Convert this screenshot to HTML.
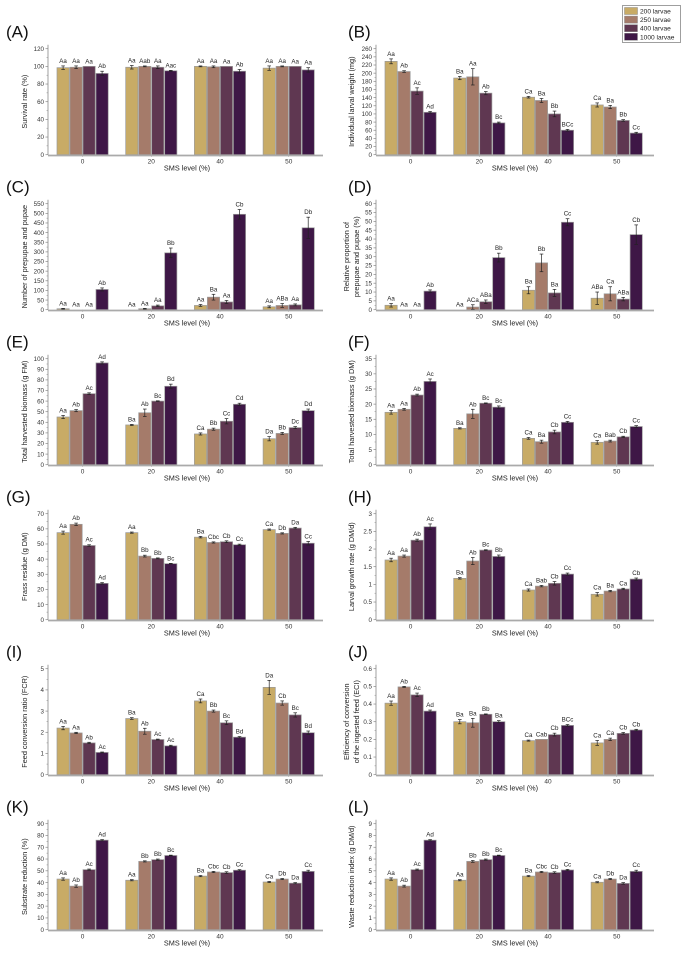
<!DOCTYPE html>
<html><head><meta charset="utf-8">
<style>
html,body{margin:0;padding:0;background:#fff;}
svg{display:block;font-family:"Liberation Sans",Arial,sans-serif;}
</style></head>
<body>
<svg id="fig" width="685" height="979" viewBox="0 0 685 979" xmlns="http://www.w3.org/2000/svg"></svg>
<script>
const groups = ["0","20","40","50"];
const seriesNames = ["200 larvae","250 larvae","400 larvae","1000 larvae"];
const colors = ["#c8ab66","#a57b6a","#5f3751","#3e1746"];

const valsA = [[98.5,99,100,92],[99,100,99,95],[100,99.5,100,94.5],[98,100,100,96]];
const errA = [[2,1.5,0,2.5],[2,0.5,1.5,0.5],[0.5,1,0,2],[2.5,0.5,0,2.5]];
const lettA = [["Aa","Aa","Aa","Ab"],["Aa","Aab","Aa","Aac"],["Aa","Aa","Aa","Ab"],["Aa","Aa","Aa","Aa"]];

const valsB = [[229,204,156,104],[188,191,151,78],[141,133,100,60],[122,117,84,53]];
const errB = [[6,2,8,2],[4,20,4,2],[2,5,7,2],[5,4,2,2]];
const lettB = [["Aa","Ab","Ac","Ad"],["Ba","Aa","Ab","Bc"],["Ca","Ba","Bb","BCc"],["Ca","Ba","Bb","Cc"]];

const valsC = [[5,0,0,105],[0,5,20,295],[22,65,40,495],[15,22,25,425]];
const errC = [[2,0,0,8],[0,2,4,25],[5,15,8,25],[5,10,5,55]];
const lettC = [["Aa","Aa","Aa","Ab"],["Aa","Aa","Aa","Bb"],["Aa","Ba","Aa","Cb"],["Aa","ABa","Aa","Db"]];

const valsD = [[2.5,0,0,10.5],[0,1.5,4.5,29.5],[11,26.5,9.5,49.5],[6.5,9,6,42.5]];
const errD = [[1,0,0,0.7],[0,1.3,1,2.5],[2,5,2,2],[3.5,4,1,5.5]];
const lettD = [["Aa","Aa","Aa","Ab"],["Aa","ACa","ABa","Bb"],["Ba","Bb","Ba","Cc"],["ABa","Ca","ABa","Cb"]];

const valsE = [[45,51,67,96],[37.5,49,60,74],[29,33.5,41,57],[24.5,29.5,35,51]];
const errE = [[1.5,1,0.8,1],[0.5,3.5,0.3,2],[1,1,2.5,1],[2,1,1,1.5]];
const lettE = [["Aa","Ab","Ac","Ad"],["Ba","Ab","Bc","Bd"],["Ca","Bb","Cc","Cd"],["Da","Bb","Dc","Dd"]];

const valsF = [[17.3,18.3,23,27.5],[12,16.8,20.3,19],[8.7,7.6,10.8,14],[7.4,7.8,9.2,12.6]];
const errF = [[0.6,0.3,0.3,0.8],[0.2,1.5,0.1,0.4],[0.3,0.5,0.6,0.3],[0.6,0.3,0.2,0.3]];
const lettF = [["Aa","Aa","Ab","Ac"],["Ba","Ab","Bc","Bc"],["Ca","Ba","Cb","Cc"],["Ca","Bab","Cb","Cc"]];

const valsG = [[57.5,63,49,24],[57.5,42,40.5,37],[54.5,51,51.5,49.5],[59.5,57,60.5,50.5]];
const errG = [[1,0.8,0.5,0.5],[0.4,0.6,0.3,0.2],[0.5,0.4,0.6,0.4],[0.4,0.4,0.5,1.2]];
const lettG = [["Aa","Ab","Ac","Ad"],["Aa","Bb","Bb","Bc"],["Ba","Cbc","Cb","Cc"],["Ca","Db","Da","Cc"]];

const valsH = [[1.69,1.8,2.25,2.63],[1.17,1.66,1.97,1.79],[0.84,0.95,1.03,1.29],[0.72,0.81,0.87,1.15]];
const errH = [[0.05,0.03,0.03,0.08],[0.02,0.1,0.01,0.04],[0.03,0.02,0.05,0.03],[0.05,0.02,0.02,0.03]];
const lettH = [["Aa","Aa","Ab","Ac"],["Ba","Ab","Bc","Bb"],["Ca","Bab","Cb","Cc"],["Ca","Ba","Ca","Cb"]];

const valsI = [[2.2,1.97,1.5,1.05],[2.65,2.05,1.66,1.36],[3.48,3.0,2.45,1.77],[4.12,3.38,2.82,1.98]];
const errI = [[0.08,0.03,0.03,0.02],[0.04,0.14,0.02,0.03],[0.09,0.05,0.09,0.03],[0.33,0.1,0.1,0.08]];
const lettI = [["Aa","Aa","Ab","Ac"],["Ba","Ab","Ac","Ac"],["Ca","Bb","Bc","Bd"],["Da","Cb","Bc","Bd"]];

const valsJ = [[0.405,0.497,0.452,0.36],[0.30,0.294,0.342,0.30],[0.193,0.20,0.227,0.279],[0.18,0.20,0.234,0.253]];
const errJ = [[0.012,0.003,0.01,0.006],[0.012,0.025,0.002,0.006],[0.003,0,0.008,0.005],[0.014,0.007,0.005,0.004]];
const lettJ = [["Aa","Ab","Ac","Ad"],["Ba","Ba","Bb","Ba"],["Ca","Cab","Cb","BCc"],["Ca","Ca","Cb","Cb"]];

const valsK = [[43,37,51,76],[42,58,59.5,63],[45.5,49,48.5,50.5],[40.5,43,39.5,49.5]];
const errK = [[1,1,0.5,0.5],[0.5,0.5,0.5,0.3],[0.5,0.5,0.7,0.5],[0.5,0.5,0.5,1]];
const lettK = [["Aa","Ab","Ac","Ad"],["Aa","Bb","Bb","Bc"],["Ba","Cbc","Cb","Cc"],["Ca","Db","Da","Cc"]];

const valsL = [[4.3,3.7,5.1,7.6],[4.2,5.8,5.95,6.3],[4.55,4.9,4.85,5.07],[4.03,4.3,3.93,4.95]];
const errL = [[0.1,0.08,0.05,0.05],[0.05,0.08,0.05,0.03],[0.05,0.05,0.07,0.05],[0.05,0.05,0.07,0.1]];
const lettL = [["Aa","Ab","Ac","Ad"],["Aa","Bb","Bb","Bc"],["Ba","Cbc","Cb","Cc"],["Ca","Db","Da","Cc"]];

const ticksA=[0,20,40,60,80,100,120];
const ticksB=[0,20,40,60,80,100,120,140,160,180,200,220,240,260];
const ticksC=[0,50,100,150,200,250,300,350,400,450,500,550];
const ticksD=[0,5,10,15,20,25,30,35,40,45,50,55,60];
const ticksE=[0,10,20,30,40,50,60,70,80,90,100];
const ticksF=[0,5,10,15,20,25,30,35];
const ticksG=[0,10,20,30,40,50,60,70];
const ticksH=[0,0.5,1,1.5,2,2.5,3];
const ticksI=[0,1,2,3,4,5];
const ticksJ=[0,0.1,0.2,0.3,0.4,0.5,0.6];
const ticksK=[0,10,20,30,40,50,60,70,80,90];
const ticksL=[0,1,2,3,4,5,6,7,8,9];

const NS="http://www.w3.org/2000/svg";
const svg=document.getElementById('fig');
function mk(tag,attrs,parent,text){const e=document.createElementNS(NS,tag);for(const k in attrs)e.setAttribute(k,attrs[k]);if(text!==undefined)e.textContent=text;(parent||svg).appendChild(e);return e;}

const panels=[
 {id:"a",label:"(A)",col:0,row:0,vals:valsA,err:errA,lett:lettA,ticks:ticksA,title:["Survival rate (%)"]},
 {id:"b",label:"(B)",col:1,row:0,vals:valsB,err:errB,lett:lettB,ticks:ticksB,title:["Individual larval weight (mg)"]},
 {id:"c",label:"(C)",col:0,row:1,vals:valsC,err:errC,lett:lettC,ticks:ticksC,title:["Number of prepupae and pupae"]},
 {id:"d",label:"(D)",col:1,row:1,vals:valsD,err:errD,lett:lettD,ticks:ticksD,title:["Relative proportion of","prepupae and pupae (%)"]},
 {id:"e",label:"(E)",col:0,row:2,vals:valsE,err:errE,lett:lettE,ticks:ticksE,title:["Total harvested biomass (g FM)"]},
 {id:"f",label:"(F)",col:1,row:2,vals:valsF,err:errF,lett:lettF,ticks:ticksF,title:["Total harvested biomass (g DM)"]},
 {id:"g",label:"(G)",col:0,row:3,vals:valsG,err:errG,lett:lettG,ticks:ticksG,title:["Frass residue (g DM)"]},
 {id:"h",label:"(H)",col:1,row:3,vals:valsH,err:errH,lett:lettH,ticks:ticksH,title:["Larval growth rate (g DM/d)"]},
 {id:"i",label:"(I)",col:0,row:4,vals:valsI,err:errI,lett:lettI,ticks:ticksI,title:["Feed conversion ratio (FCR)"]},
 {id:"j",label:"(J)",col:1,row:4,vals:valsJ,err:errJ,lett:lettJ,ticks:ticksJ,title:["Efficiency of conversion","of the ingested feed (ECI)"]},
 {id:"k",label:"(K)",col:0,row:5,vals:valsK,err:errK,lett:lettK,ticks:ticksK,title:["Substrate reduction (%)"]},
 {id:"l",label:"(L)",col:1,row:5,vals:valsL,err:errL,lett:lettL,ticks:ticksL,title:["Waste reduction index (g DM/d)"]}
];

panels.forEach(p=>{
  const ax = p.col===0?48:376;
  const xEnd = p.col===0?323:654;
  const y0 = 154.7 + p.row*155;
  const ph = 106;
  const tmax = p.ticks[p.ticks.length-1];
  const yS = v => y0 - v/tmax*ph;
  const gx = i => ax + 34.6 + i*68.7;
  const bw = 13;
  const g = mk('g',{});
  
  
  const lab = mk('text',{x:p.col===0?6:348,y:y0-ph-11,'font-size':17,fill:'#111'},g,p.label);
  
  
  // y axis
  const yax = mk('line',{x1:ax,y1:y0,x2:ax,y2:yS(tmax)-4,stroke:'#888','stroke-width':0.8},g);
  
  
  p.ticks.forEach((t,k)=>{
    const y=yS(t);
    mk('line',{x1:ax-2.5,y1:y,x2:ax,y2:y,stroke:'#888','stroke-width':0.7},g);
    if(k<p.ticks.length-1){const ym=(y+yS(p.ticks[k+1]))/2;mk('line',{x1:ax-1.5,y1:ym,x2:ax,y2:ym,stroke:'#888','stroke-width':0.5},g);}
    const tl=mk('text',{x:ax-4,y:y+2.2,'font-size':6.2,'text-anchor':'end',fill:'#333'},g,String(t));
    
    
  });
  // y title
  const tx = p.col===0?27:354;
  const n=p.title.length;
  p.title.forEach((s,k)=>{
    const xx = tx - (n-1)*5 + k*10;
    const yt=mk('text',{x:xx,y:y0-ph/2,'font-size':7.3,'text-anchor':'middle',fill:'#222',transform:`rotate(-90 ${xx} ${y0-ph/2})`},g,s);
    
    
  });
  // bars
  groups.forEach((gn,i)=>{
    for(let s=0;s<4;s++){
      const v=p.vals[i][s], e=p.err[i][s];
      const x=gx(i)-26+s*bw;
      const r=mk('rect',{x:x+0.4,y:yS(v),width:bw-0.8,height:Math.max(0,y0-yS(v)),fill:colors[s],stroke:'#9a9a9a','stroke-width':0.7},g);
      
      
      const cx=x+bw/2;
      if(e>0){
        mk('line',{x1:cx,y1:yS(v+e),x2:cx,y2:yS(v-e),stroke:'#222','stroke-width':0.7},g);
        mk('line',{x1:cx-1.8,y1:yS(v+e),x2:cx+1.8,y2:yS(v+e),stroke:'#222','stroke-width':0.7},g);
        mk('line',{x1:cx-1.8,y1:yS(v-e),x2:cx+1.8,y2:yS(v-e),stroke:'#222','stroke-width':0.7},g);
      }
      const lt=mk('text',{x:cx,y:yS(v+e)-3,'font-size':6.2,'text-anchor':'middle',fill:'#222'},g,p.lett[i][s]);
      
      
    }
    const xl=mk('text',{x:gx(i),y:y0+9,'font-size':6.5,'text-anchor':'middle',fill:'#333'},g,gn);
    
    
    mk('line',{x1:gx(i),y1:y0,x2:gx(i),y2:y0+2,stroke:'#888','stroke-width':0.6},g);
  });
  const xax=mk('line',{x1:ax,y1:y0+0.8,x2:xEnd,y2:y0+0.8,stroke:'#aaa','stroke-width':1.8},g);
  
  
  const xt=mk('text',{x:p.col===0?187:515,y:y0+16,'font-size':7.3,'text-anchor':'middle',fill:'#222'},g,'SMS level (%)');
  
  
});

// legend
const lg=mk('g',{});


mk('rect',{x:622.5,y:5.5,width:58,height:37,fill:'#fff',stroke:'#777','stroke-width':0.7},lg);
seriesNames.forEach((s,k)=>{
  const y=7.5+k*8.6;
  const sw=mk('rect',{x:624.5,y:y,width:13,height:7,fill:colors[k],stroke:'#888','stroke-width':0.5},lg);
  
  
  const t=mk('text',{x:640,y:y+6,'font-size':6.6,fill:'#222'},lg,s);
  
  
});
</script>
</body></html>
